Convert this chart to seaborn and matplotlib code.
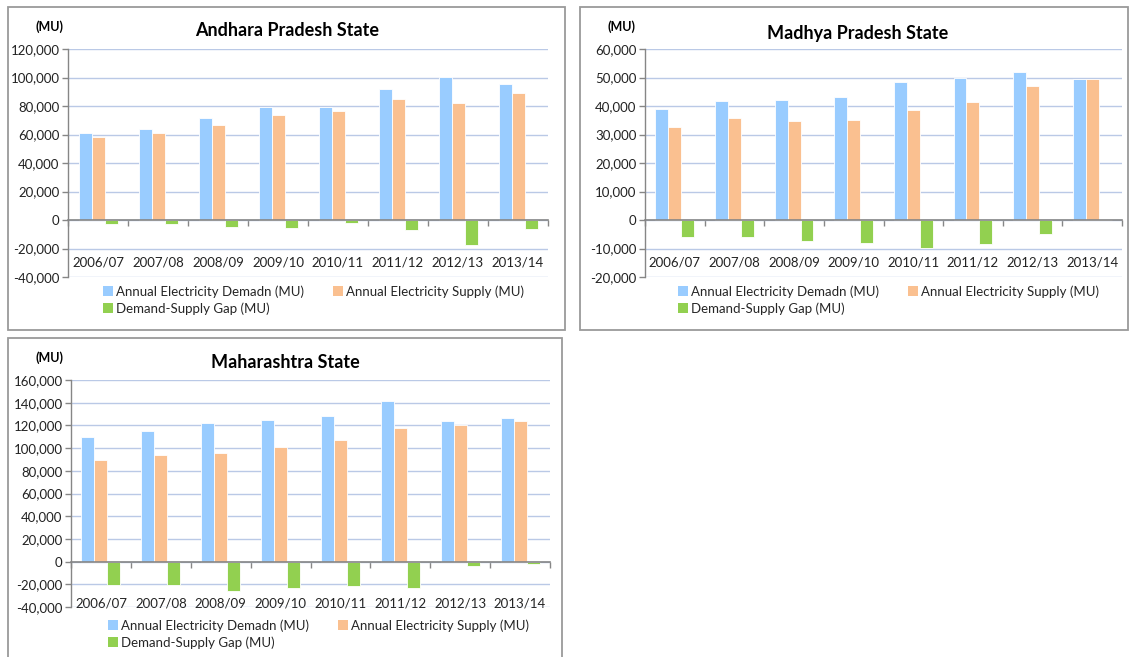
import numpy as np
import pandas as pd
import seaborn as sns
import matplotlib
matplotlib.use("Agg")
import matplotlib.pyplot as plt
from matplotlib.patches import Patch, Rectangle
from matplotlib.ticker import FuncFormatter

sns.set_theme(style="white")
plt.rcParams["font.family"] = ["Lato", "DejaVu Sans"]

# ---- data -------------------------------------------------------------
periods = ["2006/07", "2007/08", "2008/09", "2009/10",
           "2010/11", "2011/12", "2012/13", "2013/14"]
series_names = ["Annual Electricity Demadn (MU)",
                "Annual Electricity Supply (MU)",
                "Demand-Supply Gap (MU)"]

ap_demand = [61000, 64200, 71700, 79200, 79000, 91900, 100300, 95600]
ap_supply = [58400, 61400, 66800, 73800, 76600, 85100, 82300, 89100]
ap_gap = [-2500, -2600, -4800, -5300, -2400, -6700, -17800, -6600]

mp_demand = [38900, 41700, 42200, 43200, 48500, 49900, 52000, 49500]
mp_supply = [32800, 35900, 34900, 35000, 38700, 41500, 46900, 49500]
mp_gap = [-5900, -5900, -7200, -8200, -9700, -8300, -4900, 0]

mh_demand = [110000, 114700, 121800, 125000, 128200, 141500, 123800, 126200]
mh_supply = [89100, 93800, 95900, 101200, 107100, 117600, 120300, 123500]
mh_gap = [-20900, -20900, -26100, -23600, -21200, -23600, -3700, -2500]

colors = ["#99CCFF", "#FAC090", "#92D050"]
grid_color = "#BAC9E6"
axis_color = "#868686"


def long_frame(demand, supply, gap):
    rows = []
    for name, vals in zip(series_names, [demand, supply, gap]):
        for p, v in zip(periods, vals):
            rows.append({"period": p, "series": name, "value": v})
    return pd.DataFrame(rows)


fmt = FuncFormatter(lambda v, _: f"{v:,.0f}".replace("\u2212", "-"))

fig = plt.figure(figsize=(11.3, 6.57), dpi=100)
W, H = 1130, 657


def fx(px):
    return px / W


def fy(py):
    return 1 - py / H


panels = [
    dict(title="Andhara Pradesh State", data=(ap_demand, ap_supply, ap_gap),
         rect=(68, 49, 548, 277), ylim=(-40000, 120000), step=20000,
         border=(8, 7, 565, 330), title_xy=(287, 31), mu_xy=(50, 27),
         legend_xy=(103, 285)),
    dict(title="Madhya Pradesh State", data=(mp_demand, mp_supply, mp_gap),
         rect=(645, 49, 1122, 277), ylim=(-20000, 60000), step=10000,
         border=(580, 7, 1128, 330), title_xy=(858, 33), mu_xy=(622, 27),
         legend_xy=(678, 285)),
    dict(title="Maharashtra State", data=(mh_demand, mh_supply, mh_gap),
         rect=(71, 380, 550, 607), ylim=(-40000, 160000), step=20000,
         border=(8, 338, 562, 662), title_xy=(285, 362), mu_xy=(50, 358),
         legend_xy=(108, 619)),
]

for pn in panels:
    # panel frame
    bx0, by0, bx1, by1 = pn["border"]
    fig.add_artist(Rectangle((fx(bx0), fy(by1)), fx(bx1 - bx0), (by1 - by0) / H,
                             transform=fig.transFigure, fill=False,
                             edgecolor="#9A9A9A", linewidth=1.3))

    x0, y0, x1, y1 = pn["rect"]
    ax = fig.add_axes([fx(x0), fy(y1), fx(x1 - x0), (y1 - y0) / H])
    df = long_frame(*pn["data"])
    sns.barplot(data=df, x="period", y="value", hue="series",
                hue_order=series_names, palette=colors, order=periods,
                width=0.65, saturation=1, edgecolor="white", linewidth=0.6,
                legend=False, ax=ax)

    lo, hi = pn["ylim"]
    ax.set_ylim(lo, hi)
    ax.set_yticks(np.arange(lo, hi + 1, pn["step"]))
    ax.yaxis.set_major_formatter(fmt)
    ax.set_xlim(-0.5, len(periods) - 0.5)
    ax.set_xlabel("")
    ax.set_ylabel("")

    ax.grid(axis="y", color=grid_color, linewidth=1.0)
    ax.grid(axis="x", visible=False)
    ax.set_axisbelow(True)

    for s in ("top", "right"):
        ax.spines[s].set_visible(False)
    ax.spines["left"].set_color(axis_color)
    ax.spines["left"].set_linewidth(1.0)
    ax.spines["bottom"].set_position(("data", 0))
    ax.spines["bottom"].set_color(axis_color)
    ax.spines["bottom"].set_linewidth(1.2)

    ax.tick_params(axis="y", left=True, length=4, width=1, color=axis_color,
                   labelsize=9.5, pad=2, labelcolor="#222222")
    ax.set_xticks(range(len(periods)))
    ax.set_xticklabels(periods)
    ax.set_xticks(np.arange(-0.5, len(periods), 1.0), minor=True)
    ax.tick_params(axis="x", which="major", bottom=True, length=0, pad=26,
                   labelsize=9.5, labelcolor="#222222")
    ax.tick_params(axis="x", which="minor", bottom=True, length=4, width=1,
                   color=axis_color)

    tx, ty = pn["title_xy"]
    fig.text(fx(tx), fy(ty), pn["title"], ha="center", va="center",
             fontsize=13, fontweight="bold", color="#000000")
    mx, my = pn["mu_xy"]
    fig.text(fx(mx), fy(my), "(MU)", ha="center", va="center",
             fontsize=9, fontweight="bold", color="#000000")

    handles = [Patch(facecolor=c, edgecolor="none") for c in colors]
    lx, ly = pn["legend_xy"]
    ax.legend(handles=[handles[0], handles[2], handles[1]],
              labels=[series_names[0], series_names[2], series_names[1]],
              ncol=2, loc="upper left", bbox_to_anchor=(fx(lx), fy(ly)),
              bbox_transform=fig.transFigure, frameon=False, fontsize=9.5,
              handlelength=0.75, handleheight=0.75, handletextpad=0.25,
              columnspacing=2.2, labelspacing=0.35, borderpad=0,
              borderaxespad=0)

fig.savefig("out.png", dpi=100, facecolor="white")
